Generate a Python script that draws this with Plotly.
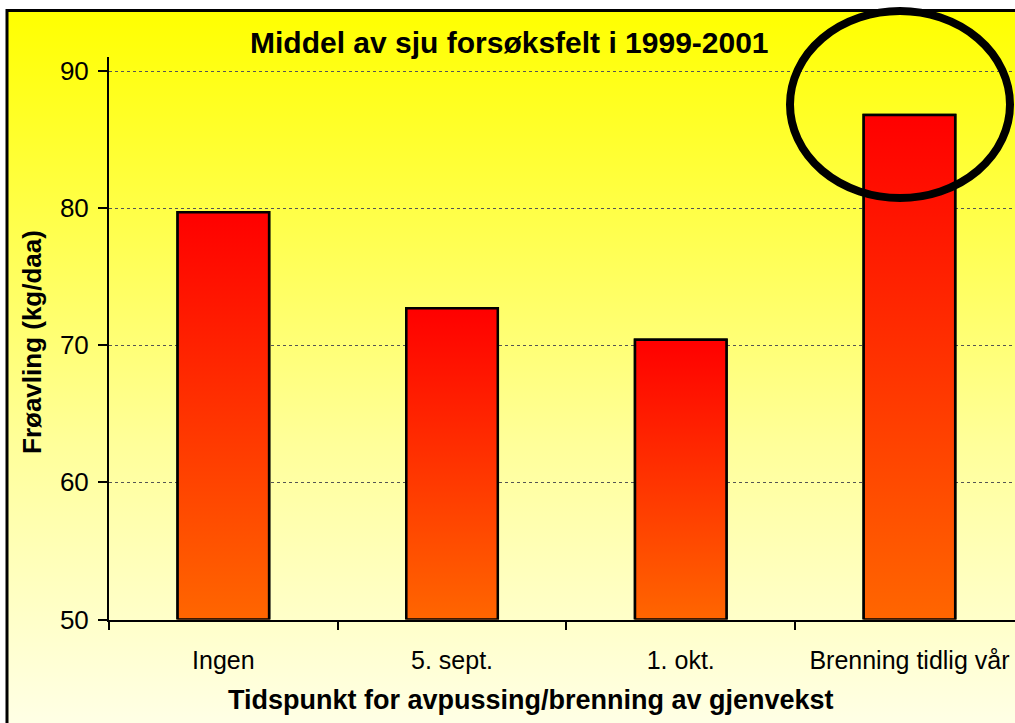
import plotly.graph_objects as go

# ---- data ----
categories = ["Ingen", "5. sept.", "1. okt.", "Brenning tidlig vår"]
values = [79.7, 72.7, 70.4, 86.8]
y_ticks = [50, 60, 70, 80, 90]

title_text = "Middel av sju forsøksfelt i 1999-2001"
x_title = "Tidspunkt for avpussing/brenning av gjenvekst"
y_title = "Frøavling (kg/daa)"

W, H = 1015, 723
FONT = "Arial, Liberation Sans, sans-serif"
BAR_W = 0.4
Y_MIN = 50

fig = go.Figure()

# background gradient (full-page helper subplot, pixel coordinates)
fig.add_trace(go.Scatter(
    x=[7, 1200, 1200, 7, 7], y=[10.5, 10.5, 800, 800, 10.5],
    mode="lines", line=dict(width=0), fill="toself",
    fillgradient=dict(type="vertical",
                      colorscale=[[0, "#FFFFFA"], [0.45, "#FFFF9A"], [1, "#FFFF00"]]),
    xaxis="x", yaxis="y", hoverinfo="skip", showlegend=False))

xs = list(range(len(categories)))

# bars
fig.add_trace(go.Bar(
    x=xs, y=[v - Y_MIN for v in values], base=Y_MIN, width=BAR_W,
    marker=dict(color="#FF3300", line=dict(color="black", width=2.5)),
    xaxis="x2", yaxis="y2", showlegend=False,
    hovertext=categories))

# gradient overlay for each bar, built from the values
for i, v in zip(xs, values):
    fig.add_trace(go.Scatter(
        x=[i - BAR_W / 2, i - BAR_W / 2, i + BAR_W / 2, i + BAR_W / 2, i - BAR_W / 2],
        y=[Y_MIN, v, v, Y_MIN, Y_MIN],
        mode="lines", line=dict(color="black", width=2.5), fill="toself",
        fillgradient=dict(type="vertical",
                          colorscale=[[0, "#FF6600"], [1, "#FF0000"]]),
        xaxis="x2", yaxis="y2", showlegend=False, hoverinfo="skip"))

left_px, right_px = 109, 1023.8
step = (right_px - left_px) / 4
x_end = 3.5 - (right_px - W) / step

fig.update_layout(
    width=W, height=H,
    margin=dict(l=0, r=0, t=0, b=0, autoexpand=False),
    paper_bgcolor="white", plot_bgcolor="rgba(0,0,0,0)",
    showlegend=False,
    font=dict(family=FONT, color="black"),
    xaxis=dict(domain=[0, 1], range=[0, W], visible=False, fixedrange=True,
               automargin=False),
    yaxis=dict(domain=[0, 1], range=[H, 0], visible=False, fixedrange=True,
               automargin=False),
    xaxis2=dict(
        domain=[left_px / W, 1], range=[-0.5, x_end], anchor="y2",
        automargin=False,
        tickmode="array", tickvals=xs, ticktext=categories, ticks="",
        tickfont=dict(size=25, family=FONT, color="black"),
        ticklabelstandoff=17,
        showgrid=False, zeroline=False,
        showline=True, linecolor="black", linewidth=2,
        minor=dict(tickmode="array", tickvals=[-0.5, 0.5, 1.5, 2.5, 3.5],
                   ticks="outside", ticklen=8, tickwidth=2, tickcolor="black",
                   showgrid=False),
    ),
    yaxis2=dict(
        domain=[1 - 619.5 / H, 1 - 57 / H], range=[Y_MIN, 90 + 14 / 13.71],
        anchor="x2", automargin=False,
        tickmode="array", tickvals=y_ticks, ticks="outside", ticklen=9,
        tickwidth=2, tickcolor="black",
        tickfont=dict(size=26, family=FONT, color="black"),
        ticklabelstandoff=4,
        showgrid=True, gridcolor="#555555", griddash="dot", gridwidth=1,
        zeroline=False, showline=True, linecolor="black", linewidth=2,
    ),
    annotations=[
        dict(text=f"<b>{title_text}</b>", xref="paper", yref="paper",
             x=509 / W, y=1 - 42 / H, showarrow=False,
             xanchor="center", yanchor="middle",
             font=dict(size=30, family=FONT, color="black")),
        dict(text=f"<b>{x_title}</b>", xref="paper", yref="paper",
             x=531 / W, y=1 - 700 / H, showarrow=False,
             xanchor="center", yanchor="middle",
             font=dict(size=27, family=FONT, color="black")),
        dict(text=f"<b>{y_title}</b>", xref="paper", yref="paper",
             x=32 / W, y=1 - 342 / H, showarrow=False, textangle=-90,
             xanchor="center", yanchor="middle",
             font=dict(size=26, family=FONT, color="black")),
    ],
    shapes=[
        dict(type="rect", xref="paper", yref="paper",
             x0=7 / W, x1=1.2, y0=-0.2, y1=1 - 10.5 / H,
             line=dict(color="black", width=3), layer="above"),
        dict(type="circle", xref="paper", yref="paper",
             x0=790 / W, x1=1010 / W, y0=1 - 198 / H, y1=1 - 11 / H,
             line=dict(color="black", width=8), layer="above"),
    ],
)

fig.write_html("out.html",
               config={"displayModeBar": False},
               post_script="document.body.style.margin='0';"
                           "document.body.style.overflow='hidden';")
